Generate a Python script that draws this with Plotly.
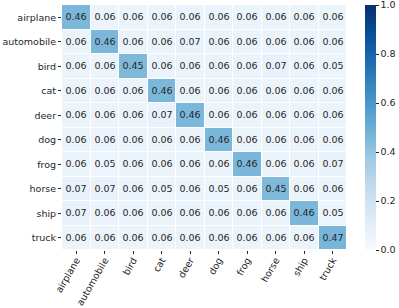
import plotly.graph_objects as go

labels = ["airplane", "automobile", "bird", "cat", "deer", "dog", "frog", "horse", "ship", "truck"]
values = [
    [0.46, 0.06, 0.06, 0.06, 0.06, 0.06, 0.06, 0.06, 0.06, 0.06],
    [0.06, 0.46, 0.06, 0.06, 0.07, 0.06, 0.06, 0.06, 0.06, 0.06],
    [0.06, 0.06, 0.45, 0.06, 0.06, 0.06, 0.06, 0.07, 0.06, 0.05],
    [0.06, 0.06, 0.06, 0.46, 0.06, 0.06, 0.06, 0.06, 0.06, 0.06],
    [0.06, 0.06, 0.06, 0.07, 0.46, 0.06, 0.06, 0.06, 0.06, 0.06],
    [0.06, 0.06, 0.06, 0.06, 0.06, 0.46, 0.06, 0.06, 0.06, 0.06],
    [0.06, 0.05, 0.06, 0.06, 0.06, 0.06, 0.46, 0.06, 0.06, 0.07],
    [0.07, 0.07, 0.06, 0.05, 0.06, 0.05, 0.06, 0.45, 0.06, 0.06],
    [0.07, 0.06, 0.06, 0.06, 0.06, 0.06, 0.06, 0.06, 0.46, 0.05],
    [0.06, 0.06, 0.06, 0.06, 0.06, 0.06, 0.06, 0.06, 0.06, 0.47],
]
cbar_ticks = [0.0, 0.2, 0.4, 0.6, 0.8, 1.0]

blues = [
    [0.0, "#f7fbff"], [0.125, "#deebf7"], [0.25, "#c6dbef"], [0.375, "#9ecae1"],
    [0.5, "#6baed6"], [0.625, "#4292c6"], [0.75, "#2171b5"], [0.875, "#08519c"],
    [1.0, "#08306b"],
]

font = "DejaVu Sans"
fs = 9.5

fig = go.Figure(go.Heatmap(
    z=values, x=labels, y=labels,
    zmin=0, zmax=1, colorscale=blues,
    xgap=1, ygap=1,
    text=[[f"{v:.2f}" for v in row] for row in values],
    texttemplate="%{text}",
    textfont=dict(family=font, size=fs, color="#262626"),
    colorbar=dict(
        x=1.063, xanchor="left", y=0.5, yanchor="middle", len=1, lenmode="fraction",
        thickness=11, outlinewidth=0, xpad=0, ypad=0,
        tickvals=cbar_ticks, ticktext=[f"{t:.1f}" for t in cbar_ticks],
        ticks="outside", ticklen=3, tickcolor="#262626",
        ticklabeloverflow="allow",
        tickfont=dict(family=font, size=fs, color="#262626"),
    ),
))

fig.update_layout(
    width=399, height=308,
    margin=dict(l=62, r=52, t=5, b=58, autoexpand=False),
    paper_bgcolor="white", plot_bgcolor="white",
    font=dict(family=font, size=fs, color="#262626"),
)
fig.update_xaxes(
    tickangle=-60, ticks="outside", ticklen=3, tickcolor="#262626",
    showgrid=False, zeroline=False, showline=False,
    tickfont=dict(family=font, size=fs), ticklabelstandoff=-3,
)
fig.update_yaxes(
    autorange="reversed", ticks="outside", ticklen=3, tickcolor="#262626",
    showgrid=False, zeroline=False, showline=False,
    tickfont=dict(family=font, size=fs),
)

fig.write_html(
    "out.html",
    config={"displayModeBar": False},
    post_script="document.body.style.margin='0';",
)
